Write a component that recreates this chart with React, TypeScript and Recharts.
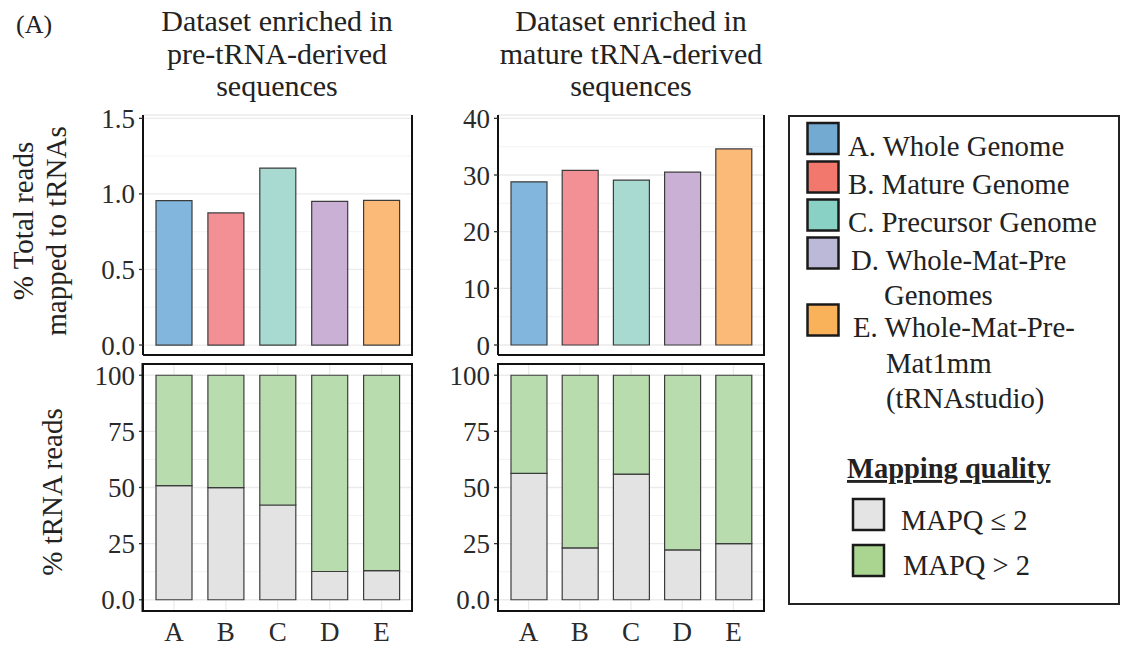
import React from 'react';
import { BarChart, Bar, XAxis, YAxis, CartesianGrid, Cell } from 'recharts';

const categories = ['A', 'B', 'C', 'D', 'E'];
const preTotalPct = [0.955, 0.874, 1.171, 0.951, 0.957];
const matTotalPct = [28.8, 30.8, 29.1, 30.5, 34.6];
const preLowMapq = [50.8, 49.9, 42.2, 12.6, 13.0];
const preHighMapq = [49.2, 50.1, 57.8, 87.4, 87.0];
const matLowMapq = [56.3, 23.1, 56.0, 22.2, 25.0];
const matHighMapq = [43.7, 76.9, 44.0, 77.8, 75.0];

const preTotalTicks = [0, 0.5, 1, 1.5];
const preTotalTickLabels = ['0.0', '0.5', '1.0', '1.5'];
const preTotalMinor = [0.25, 0.75, 1.25];
const matTotalTicks = [0, 10, 20, 30, 40];
const matTotalTickLabels = ['0', '10', '20', '30', '40'];
const matTotalMinor = [5, 15, 25, 35];
const readTicks = [0, 25, 50, 75, 100];
const readTickLabels = ['0.0', '25', '50', '75', '100'];
const readMinor = [12.5, 37.5, 62.5, 87.5];

const methodLabels = [
  ['A. Whole Genome'],
  ['B. Mature Genome'],
  ['C. Precursor Genome'],
  ['D. Whole-Mat-Pre', 'Genomes'],
  ['E. Whole-Mat-Pre-', 'Mat1mm', '(tRNAstudio)'],
];
const mapqLabels = ['MAPQ \u2264 2', 'MAPQ > 2'];
const panelTitles = [
  ['Dataset enriched in', 'pre-tRNA-derived', 'sequences'],
  ['Dataset enriched in', 'mature tRNA-derived', 'sequences'],
];
const yTitleTop = ['% Total reads', 'mapped to tRNAs'];
const yTitleBottom = '% tRNA reads';

const barFills = ['#82b6dc', '#f39095', '#a8dad2', '#cbb0d6', '#fbba78'];
const legendFills = ['#72aad2', '#f2786e', '#88d1c4', '#bcb8d8', '#fab25a'];
const lowFill = '#e3e3e3';
const highFill = '#b9dcaf';
const lowLegend = '#e4e4e4';
const highLegend = '#a9d591';

const FONT = "'Liberation Serif', 'Times New Roman', serif";
const AXIS = { stroke: '#111', strokeWidth: 2 };
const TXT = { fontFamily: FONT, fill: '#222' };

type Rect = { x0: number; x1: number; y0: number; y1: number };

function Panel(props: {
  rect: Rect;
  data: any[];
  domain: [number, number];
  ticks: number[];
  tickLabels: string[];
  minor: number[];
  stacked: boolean;
  showX: boolean;
}) {
  const { rect, data, domain, ticks, tickLabels, minor, stacked, showX } = props;
  const padL = 70, padT = 15, padR = 15, padB = 45;
  const w = rect.x1 - rect.x0 + padL + padR;
  const h = rect.y1 - rect.y0 + padT + padB;
  return (
    <div style={{ position: 'absolute', left: rect.x0 - padL, top: rect.y0 - padT }}>
      <BarChart width={w} height={h} data={data} margin={{ top: padT, right: padR, left: 0, bottom: 0 }}>
        <CartesianGrid stroke="#f3f3f3" strokeWidth={1} horizontalValues={minor} vertical={false} />
        <CartesianGrid stroke="#ebebeb" strokeWidth={1.3} />
        <XAxis
          dataKey="cat"
          height={padB}
          padding={{ left: 5, right: 5 }}
          axisLine={AXIS}
          tickLine={false}
          tickSize={0}
          tickMargin={11}
          tick={showX ? { fontFamily: FONT, fontSize: 27, fill: '#2a2a2a' } : false}
        />
        <YAxis
          width={padL}
          domain={domain}
          allowDataOverflow
          ticks={ticks}
          interval={0}
          tickFormatter={(v: number, i: number) => tickLabels[i]}
          axisLine={AXIS}
          tickLine={{ stroke: '#333', strokeWidth: 1.3 }}
          tickSize={4}
          tickMargin={4}
          tick={{ fontFamily: FONT, fontSize: 27, fill: '#2a2a2a' }}
        />
        {stacked ? (
          [
            <Bar key="low" dataKey="low" stackId="s" barSize={36} fill={lowFill} stroke="#3c3c3c" strokeWidth={1.2} isAnimationActive={false} />,
            <Bar key="high" dataKey="high" stackId="s" barSize={36} fill={highFill} stroke="#3c3c3c" strokeWidth={1.2} isAnimationActive={false} />,
          ]
        ) : (
          <Bar dataKey="v" barSize={36} stroke="#3c3c3c" strokeWidth={1.2} isAnimationActive={false}>
            {data.map((d, i) => (
              <Cell key={d.cat} fill={barFills[i]} />
            ))}
          </Bar>
        )}
      </BarChart>
    </div>
  );
}

export default function App() {
  const preTotalData = categories.map((c, i) => ({ cat: c, v: preTotalPct[i] }));
  const matTotalData = categories.map((c, i) => ({ cat: c, v: matTotalPct[i] }));
  const preMapqData = categories.map((c, i) => ({ cat: c, low: preLowMapq[i], high: preHighMapq[i] }));
  const matMapqData = categories.map((c, i) => ({ cat: c, low: matLowMapq[i], high: matHighMapq[i] }));

  const leftX = { x0: 142.5, x1: 412 };
  const rightX = { x0: 498, x1: 764 };
  const topY = { y0: 115, y1: 355 };
  const botY = { y0: 364, y1: 611 };

  const legendRows = [
    { sy: 123, lines: [{ x: 848, y: 156 }] },
    { sy: 161.5, lines: [{ x: 848, y: 193.5 }] },
    { sy: 199.5, lines: [{ x: 848, y: 231.5 }] },
    { sy: 237.5, lines: [{ x: 851, y: 270 }, { x: 884, y: 305 }] },
    { sy: 304.5, lines: [{ x: 853, y: 337 }, { x: 886, y: 373 }, { x: 886, y: 408 }] },
  ];
  const titleBaselines = [31, 64, 96];

  return (
    <div style={{ position: 'absolute', left: 0, top: 0, width: 1121, height: 648, background: '#fff', overflow: 'hidden' }}>
      <Panel rect={{ ...leftX, ...topY }} data={preTotalData} domain={[-0.066, 1.522]} ticks={preTotalTicks} tickLabels={preTotalTickLabels} minor={preTotalMinor} stacked={false} showX={false} />
      <Panel rect={{ ...rightX, ...topY }} data={matTotalData} domain={[-1.765, 40.59]} ticks={matTotalTicks} tickLabels={matTotalTickLabels} minor={matTotalMinor} stacked={false} showX={false} />
      <Panel rect={{ ...leftX, ...botY }} data={preMapqData} domain={[-5, 105]} ticks={readTicks} tickLabels={readTickLabels} minor={readMinor} stacked={true} showX={true} />
      <Panel rect={{ ...rightX, ...botY }} data={matMapqData} domain={[-5, 105]} ticks={readTicks} tickLabels={readTickLabels} minor={readMinor} stacked={true} showX={true} />

      <svg width={1121} height={648} style={{ position: 'absolute', left: 0, top: 0, pointerEvents: 'none' }}>
        <line x1={leftX.x1} y1={topY.y0} x2={leftX.x1} y2={topY.y1 + 1} stroke="#111" strokeWidth={2} />
        <line x1={rightX.x1} y1={topY.y0} x2={rightX.x1} y2={topY.y1 + 1} stroke="#111" strokeWidth={2} />
        <rect x={leftX.x0} y={botY.y0} width={leftX.x1 - leftX.x0} height={botY.y1 - botY.y0} fill="none" stroke="#111" strokeWidth={2} />
        <rect x={rightX.x0} y={botY.y0} width={rightX.x1 - rightX.x0} height={botY.y1 - botY.y0} fill="none" stroke="#111" strokeWidth={2} />

        <text x={16} y={33} style={{ ...TXT, fontSize: 26 }}>(A)</text>
        {panelTitles.map((lines, p) =>
          lines.map((ln, i) => (
            <text key={p + '-' + i} x={p === 0 ? 277 : 631} y={titleBaselines[i]} textAnchor="middle" style={{ ...TXT, fontSize: 30 }}>
              {ln}
            </text>
          ))
        )}
        <text transform="translate(33,221) rotate(-90)" textAnchor="middle" style={{ ...TXT, fontSize: 29 }}>{yTitleTop[0]}</text>
        <text transform="translate(66,231) rotate(-90)" textAnchor="middle" style={{ ...TXT, fontSize: 29 }}>{yTitleTop[1]}</text>
        <text transform="translate(62,492) rotate(-90)" textAnchor="middle" style={{ ...TXT, fontSize: 29 }}>{yTitleBottom}</text>

        <rect x={789} y={116} width={330} height={488} fill="none" stroke="#222" strokeWidth={2} />
        {legendRows.map((r, i) => (
          <g key={i}>
            <rect x={807.5} y={r.sy} width={31} height={31} fill={legendFills[i]} stroke="#1a1a1a" strokeWidth={2.5} />
            {r.lines.map((l, j) => (
              <text key={j} x={l.x} y={l.y} style={{ ...TXT, fontSize: 28.8 }}>{methodLabels[i][j]}</text>
            ))}
          </g>
        ))}
        <text x={847} y={478} style={{ ...TXT, fontSize: 28.5, fontWeight: 'bold', textDecoration: 'underline' }}>Mapping quality</text>
        <rect x={853} y={499} width={31} height={31} fill={lowLegend} stroke="#1a1a1a" strokeWidth={2.5} />
        <text x={901} y={530} style={{ ...TXT, fontSize: 28.5 }}>{mapqLabels[0]}</text>
        <rect x={853} y={545} width={31} height={31} fill={highLegend} stroke="#1a1a1a" strokeWidth={2.5} />
        <text x={903} y={575} style={{ ...TXT, fontSize: 28.5 }}>{mapqLabels[1]}</text>
      </svg>
    </div>
  );
}
